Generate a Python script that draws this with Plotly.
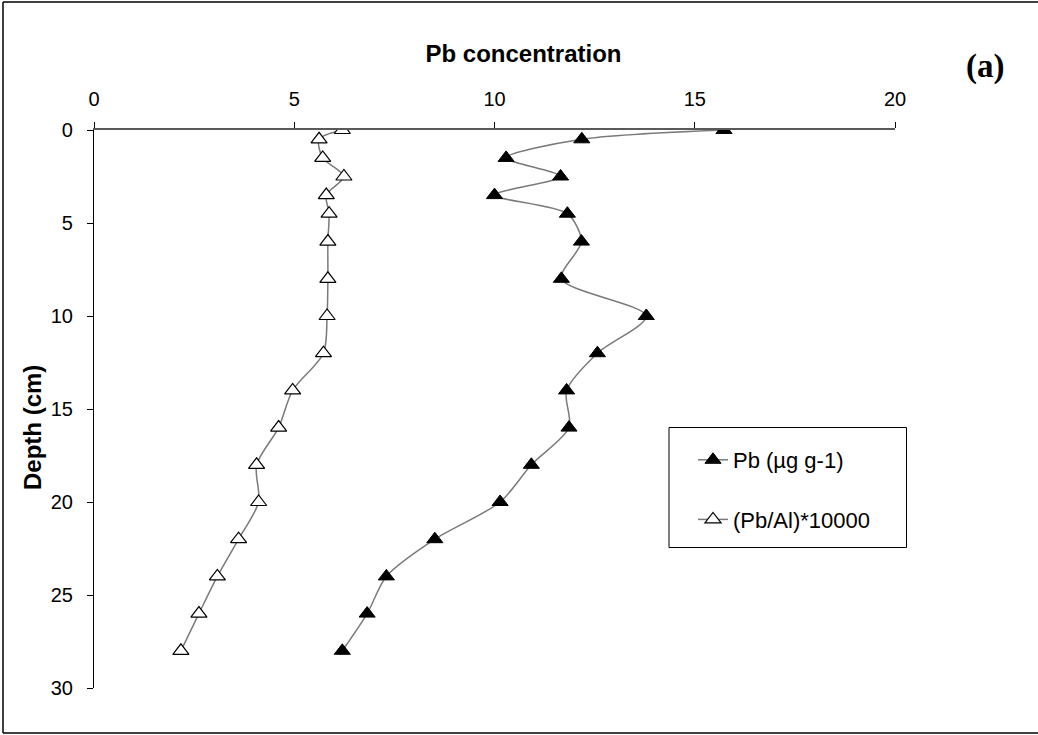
import plotly.graph_objects as go

# ---- data ----
depth_cm = [0, 0.5, 1.5, 2.5, 3.5, 4.5, 6, 8, 10, 12, 14, 16, 18, 20, 22, 24, 26, 28]
pb_ug_g = [15.73, 12.18, 10.29, 11.65, 10.0, 11.82, 12.17, 11.67, 13.79, 12.57,
           11.80, 11.86, 10.92, 10.14, 8.51, 7.30, 6.82, 6.20]
pb_al_x10000 = [6.20, 5.62, 5.71, 6.24, 5.80, 5.87, 5.84, 5.84, 5.82, 5.73,
                4.96, 4.61, 4.06, 4.11, 3.61, 3.08, 2.62, 2.17]
x_ticks = [0, 5, 10, 15, 20]
y_ticks = [0, 5, 10, 15, 20, 25, 30]
series_names = ["Pb (µg g-1)", "(Pb/Al)*10000"]

W, H = 1038, 735
L, R, T, B = 94, 143, 130, 47
pw, ph = W - L - R, H - T - B


def px_to_paper_x(px):
    return (px - L) / pw


def px_to_paper_y(py):
    return (H - B - py) / ph


FONT = "Arial, 'Liberation Sans', sans-serif"
LINE_COL = "#7a7a7a"

fig = go.Figure()
fig.add_trace(go.Scatter(
    x=pb_ug_g, y=depth_cm, name=series_names[0], mode="lines+markers",
    line=dict(color=LINE_COL, width=1.5, shape="spline", smoothing=0.8),
    marker=dict(symbol="triangle-up", size=14, color="black",
                line=dict(color="black", width=1)),
    legendgroup="a",
))
fig.add_trace(go.Scatter(
    x=pb_al_x10000, y=depth_cm, name=series_names[1], mode="lines+markers",
    line=dict(color=LINE_COL, width=1.5, shape="spline", smoothing=0.8),
    marker=dict(symbol="triangle-up", size=14, color="white",
                line=dict(color="black", width=1.2)),
    legendgroup="b",
))

# legend frame drawn as a box; legend itself sits inside
fx0, fx1 = px_to_paper_x(3), px_to_paper_x(1038)
fy0, fy1 = px_to_paper_y(733), px_to_paper_y(2)
border = dict(color="black", width=1.5)
shapes = [
    dict(type="rect", xref="paper", yref="paper",
         x0=px_to_paper_x(669), x1=px_to_paper_x(906.5),
         y0=px_to_paper_y(547.5), y1=px_to_paper_y(427.5),
         line=dict(color="black", width=1), fillcolor="rgba(0,0,0,0)"),
    # outer frame of the figure: left, top and bottom sides
    dict(type="line", xref="paper", yref="paper", x0=fx0, x1=fx0, y0=fy0, y1=fy1, line=border),
    dict(type="line", xref="paper", yref="paper", x0=fx0, x1=fx1, y0=fy1, y1=fy1, line=border),
    dict(type="line", xref="paper", yref="paper", x0=fx0, x1=fx1, y0=fy0, y1=fy0, line=border),
]

fig.update_layout(
    width=W, height=H,
    margin=dict(l=L, r=R, t=T, b=B, autoexpand=False),
    paper_bgcolor="white", plot_bgcolor="white",
    font=dict(family=FONT, color="black", size=20),
    showlegend=True,
    legend=dict(
        x=px_to_paper_x(693), y=px_to_paper_y(439),
        xanchor="left", yanchor="top",
        bgcolor="rgba(0,0,0,0)", borderwidth=0,
        font=dict(family=FONT, size=22, color="black"),
        traceorder="grouped", tracegroupgap=28,
        itemwidth=30,
    ),
    title=dict(text="<b>Pb concentration</b>", x=523.5 / W, xref="container",
               xanchor="center", y=1 - 54 / H, yanchor="middle",
               font=dict(family=FONT, size=24, color="black")),
    shapes=shapes,
    annotations=[
        dict(text="<b>Depth (cm)</b>", xref="paper", yref="paper",
             x=px_to_paper_x(32), y=px_to_paper_y(428), textangle=-90,
             showarrow=False, xanchor="center", yanchor="middle",
             font=dict(family=FONT, size=24, color="black")),
        dict(text="<b>(a)</b>", xref="paper", yref="paper",
             x=px_to_paper_x(985), y=px_to_paper_y(66),
             showarrow=False, xanchor="center", yanchor="middle",
             font=dict(family="'Times New Roman', 'Liberation Serif', serif", size=33, color="black")),
    ],
)

fig.update_xaxes(
    range=[0, 20], side="top", tickvals=x_ticks,
    showline=True, linecolor="#5a5a5a", linewidth=1.5,
    ticks="outside", ticklen=6, tickcolor="black", tickwidth=1,
    showgrid=False, zeroline=False, ticklabelstandoff=8,
    tickfont=dict(family=FONT, size=20, color="black"),
)
fig.update_yaxes(
    range=[30, 0], tickvals=y_ticks,
    showline=True, linecolor="black", linewidth=1.2,
    ticks="outside", ticklen=6, tickcolor="black", tickwidth=1,
    showgrid=False, zeroline=False, ticklabelstandoff=10,
    tickfont=dict(family=FONT, size=20, color="black"),
)

fig.write_html(
    "out.html",
    config={"displayModeBar": False},
    post_script="document.body.style.margin='0';document.body.style.overflow='hidden';",
)
